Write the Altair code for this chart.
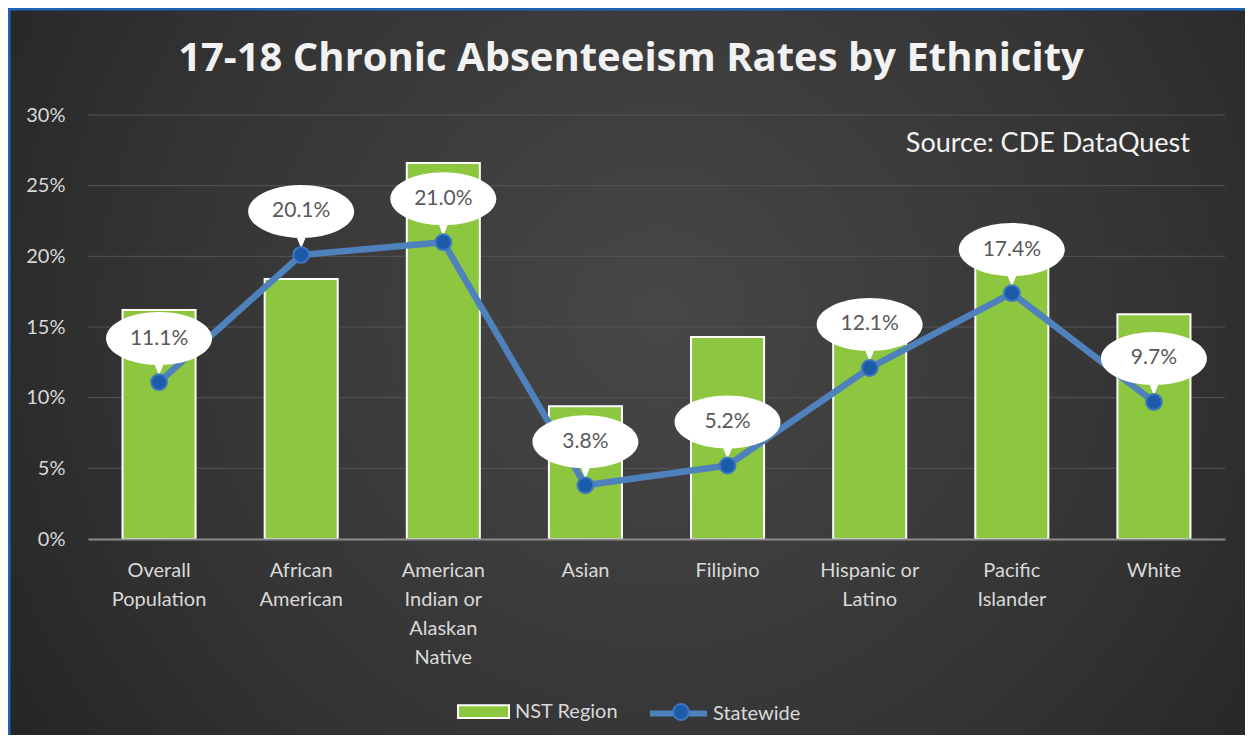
import altair as alt
import pandas as pd

categories = [
    "Overall\nPopulation",
    "African\nAmerican",
    "American\nIndian or\nAlaskan\nNative",
    "Asian",
    "Filipino",
    "Hispanic or\nLatino",
    "Pacific\nIslander",
    "White",
]
nst_region = [16.2, 18.4, 26.6, 9.4, 14.3, 14.5, 19.6, 15.9]
statewide = [11.1, 20.1, 21.0, 3.8, 5.2, 12.1, 17.4, 9.7]
y_ticks = [0, 5, 10, 15, 20, 25, 30]
grid_ticks = [5, 10, 15, 20, 25, 30]
title_text = "17-18 Chronic Absenteeism Rates by Ethnicity"
source_text = "Source:  CDE DataQuest"

df = pd.DataFrame({
    "cat": categories,
    "nst": nst_region,
    "state": statewide,
    "s1": ["NST Region"] * len(categories),
    "s2": ["Statewide"] * len(categories),
})
grid_df = pd.DataFrame({"v": grid_ticks})

W, H = 1137, 424
PL, PT, PR, PB = 80, 107, 20, 196

FONT = "Lato"
GREEN = "#8dc63f"
LINEBLUE = "#4f81bd"
DOTBLUE = "#1c5ba8"
LABEL = "#d9d9d9"

x_axis = alt.Axis(labelExpr="split(datum.label, '\\n')", labelAngle=0,
                  labelFont=FONT, labelFontSize=20, labelColor=LABEL,
                  labelLineHeight=29, labelPadding=21, ticks=False,
                  domainColor="#8c8c8c", domainWidth=2, grid=False,
                  zindex=1, labelLimit=300)
xs = alt.X("cat:N", sort=categories, title=None,
           scale=alt.Scale(paddingInner=0.486, paddingOuter=0.243), axis=x_axis)
ys_scale = alt.Scale(domain=[0, 30], nice=False)
y_axis = alt.Axis(values=y_ticks, labelExpr="datum.value + '%'",
                  labelFont=FONT, labelFontSize=20, labelColor=LABEL,
                  labelPadding=23, ticks=False, domain=False, grid=False,
                  zindex=1)

radial = {
    "gradient": "radial",
    "x1": 0.52, "y1": 0.45, "r1": 0.0,
    "x2": 0.52, "y2": 0.45, "r2": 0.75,
    "stops": [
        {"offset": 0.0, "color": "#474747"},
        {"offset": 0.55, "color": "#333333"},
        {"offset": 1.0, "color": "#1c1c1c"},
    ],
}

bg = alt.Chart(pd.DataFrame({"a": [0]})).mark_rect(
    fill=radial, stroke="#1f63b5", strokeWidth=3
).encode(
    x=alt.value(-PL + 1), x2=alt.value(W + PR + 12),
    y=alt.value(-PT + 1), y2=alt.value(H + PB + 12),
)

grid = alt.Chart(grid_df).mark_rule(color="#555555", strokeWidth=1).encode(
    y=alt.Y("v:Q", scale=ys_scale, axis=y_axis, title=None),
    x=alt.value(0), x2=alt.value(W),
)

bars = alt.Chart(df).mark_bar(stroke="white", strokeWidth=2).encode(
    x=xs,
    y=alt.Y("nst:Q", scale=ys_scale, axis=y_axis, title=None),
    fill=alt.Fill("s1:N", scale=alt.Scale(domain=["NST Region"], range=[GREEN]),
                  legend=alt.Legend(title=None, orient="none", legendX=369, legendY=570,
                                    symbolType="M-1,-0.25H1V0.25H-1Z", symbolSize=2601,
                                    symbolStrokeColor="white", symbolStrokeWidth=2,
                                    symbolOpacity=1, labelFont=FONT, labelFontSize=20,
                                    labelColor=LABEL, labelOffset=5, padding=0)),
)

line = alt.Chart(df).mark_line(strokeWidth=6.5, strokeCap="round", strokeJoin="round").encode(
    x=alt.X("cat:N", sort=categories),
    y=alt.Y("state:Q", scale=ys_scale),
    stroke=alt.Stroke("s2:N", scale=alt.Scale(domain=["Statewide"], range=[LINEBLUE]),
                      legend=alt.Legend(title=None, orient="none", legendX=559, legendY=567,
                                        symbolType="M-1,0H1", symbolSize=3249,
                                        symbolStrokeWidth=6, labelFont=FONT, labelFontSize=20,
                                        labelColor=LABEL, labelOffset=3, padding=0)),
)

points = alt.Chart(df).mark_point(filled=True, size=250, opacity=1,
                                  stroke="#3f78c2", strokeWidth=2).encode(
    x=alt.X("cat:N", sort=categories),
    y=alt.Y("state:Q", scale=ys_scale),
    fill=alt.Fill("s2:N", scale=alt.Scale(domain=["Statewide"], range=[DOTBLUE]),
                  legend=alt.Legend(title=None, orient="none", legendX=583, legendY=587,
                                    symbolType="circle", symbolSize=250,
                                    symbolStrokeColor="#3f78c2", symbolStrokeWidth=2,
                                    labelExpr="''", labelFontSize=20, padding=0)),
)

k = 0.5523
cx, cy, rx, ry = 0.0, -0.87, 1.06, 0.53
callout_path = (
    f"M{cx-rx},{cy} "
    f"C{cx-rx},{cy-k*ry} {cx-k*rx},{cy-ry} {cx},{cy-ry} "
    f"C{cx+k*rx},{cy-ry} {cx+rx},{cy-k*ry} {cx+rx},{cy} "
    f"C{cx+rx},{cy+k*ry} {cx+k*rx},{cy+ry} {cx},{cy+ry} "
    f"C{cx-k*rx},{cy+ry} {cx-rx},{cy+k*ry} {cx-rx},{cy} Z "
    f"M0.13,-0.45 L0,-0.13 L-0.13,-0.45 Z"
)

callouts = alt.Chart(df).mark_point(shape=callout_path, size=10000, filled=True,
                                    fill="white", opacity=1, strokeWidth=0).encode(
    x=alt.X("cat:N", sort=categories),
    y=alt.Y("state:Q", scale=ys_scale),
)

labels = alt.Chart(df).transform_calculate(
    lbl="format(datum.state, '.1f') + '%'"
).mark_text(font=FONT, fontSize=21, color="#595959", dy=-43.5, baseline="middle").encode(
    x=alt.X("cat:N", sort=categories),
    y=alt.Y("state:Q", scale=ys_scale),
    text="lbl:N",
)

source = alt.Chart(pd.DataFrame({"t": [source_text]})).mark_text(
    font=FONT, fontSize=27, color="#f2f2f2", align="right", baseline="middle"
).encode(x=alt.value(1102), y=alt.value(29), text="t:N")

title = alt.Chart(pd.DataFrame({"t": [title_text]})).mark_text(
    font="Open Sans", fontSize=40, fontWeight="bold", color="#f2f2f2",
    align="center", baseline="alphabetic"
).encode(x=alt.value(543), y=alt.value(-44), text="t:N")

chart = alt.layer(bg, grid, bars, line, callouts, points, labels, source, title).resolve_scale(
    fill="independent"
).resolve_legend(fill="independent").properties(
    width=W, height=H,
    autosize=alt.AutoSizeParams(type="none"),
    padding={"left": PL, "top": PT, "right": PR, "bottom": PB},
    background="#262626",
).configure_view(stroke=None)

chart.save("out.html", embed_options={"renderer": "svg", "actions": False})
